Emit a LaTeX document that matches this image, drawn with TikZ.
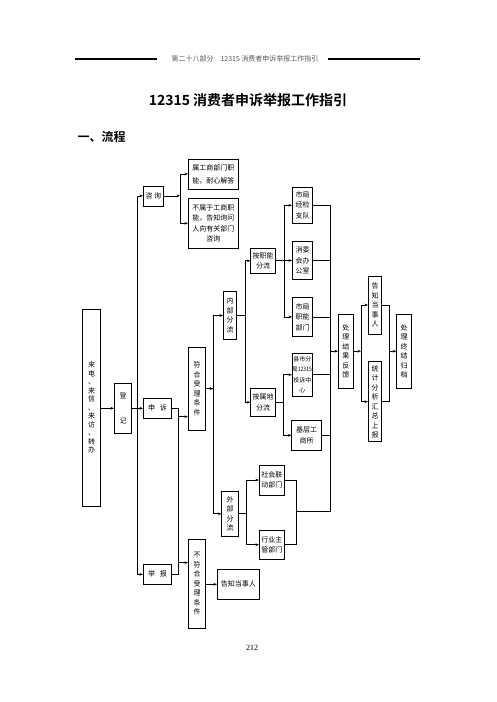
\documentclass[tikz,border=0pt]{standalone}
\usepackage{fontspec}
\newfontfamily\cjk{Noto Sans CJK SC}[BoldFont={Noto Sans CJK SC Bold}]
\newfontfamily\numfont{Liberation Serif}
\usetikzlibrary{arrows.meta}
\tikzset{gbox/.style={
    rectangle,
    draw,
    line width=0.7pt,
    inner sep=0pt,
    align=center,
    font=\cjk\fontsize{7}{10.5}\selectfont
  },
  vbox/.style={gbox,font=\cjk\fontsize{7}{9.5}\selectfont},
  wbox/.style={gbox,font=\cjk\fontsize{7}{13}\selectfont},
  sbox/.style={gbox,font=\cjk\fontsize{6}{10.5}\selectfont},
  link/.style={line width=0.7pt},
  arr/.style={link,->},
}

\begin{document}
\begin{tikzpicture}[x=1pt,y=-1pt,>={Stealth[length=3.5pt,width=2.8pt]}]
  \useasboundingbox (0,0) rectangle (496,702);
  \node[font=\cjk\fontsize{7}{7}\selectfont,text=black!65] (header) at (245,59) {第二十八部分\quad 12315 消费者申诉举报工作指引};
  \draw[line width=2pt] (75,59) -- (157,59);
  \draw[line width=2pt] (328,59) -- (420,59);
  \node[font=\cjk\bfseries\fontsize{14}{14}\selectfont] (title) at (248,100) {12315 消费者申诉举报工作指引};
  \node[font=\cjk\bfseries\fontsize{12}{12}\selectfont,anchor=west] (section) at (74,137) {一、流程};
  \node[font=\numfont\fontsize{8}{8}\selectfont] (page) at (252,648) {212};

  \node[vbox,font=\cjk\fontsize{7}{8.5}\selectfont,minimum width=18pt,minimum height=197pt] (caller) at (91.7,407.5) {来\\电\\、\\来\\信\\、\\来\\访\\、\\转\\办};
  \node[vbox,minimum width=17.4pt,minimum height=50pt] (register) at (123,408.3) {登\\[16pt]记};
  \node[gbox,minimum width=20pt,minimum height=20pt] (consult) at (153.3,195.85) {咨\hspace{1.5pt}询};
  \node[gbox,minimum width=28.4pt,minimum height=20pt] (complain) at (157.5,408.3) {申\hspace{5pt}诉};
  \node[gbox,minimum width=28.4pt,minimum height=20pt] (report) at (157.5,574.3) {举\hspace{5pt}报};
  \node[wbox,minimum width=50pt,minimum height=30pt] (inscope) at (213.3,174) {属工商部门职\\能，耐心解答};
  \node[gbox,minimum width=50pt,minimum height=50pt] (outscope) at (213.3,223.3) {不属于工商职\\能，告知询问\\人向有关部门\\咨询};
  \node[vbox,minimum width=17.4pt,minimum height=82.7pt] (accept) at (197,388.7) {符\\合\\受\\理\\条\\件};
  \node[vbox,minimum width=17.4pt,minimum height=89.3pt] (reject) at (197,583.7) {不\\符\\合\\受\\理\\条\\件};
  \node[gbox,minimum width=42pt,minimum height=30pt] (notify) at (238.3,584.3) {告知当事人};
  \node[vbox,minimum width=13.4pt,minimum height=47.6pt] (internal) at (230,315.5) {内\\部\\分\\流};
  \node[vbox,minimum width=16.6pt,minimum height=44.3pt] (external) at (230,513.8) {外\\部\\分\\流};
  \node[gbox,minimum width=25pt,minimum height=25pt] (byfunc) at (263.2,260.8) {按职能\\分流};
  \node[gbox,minimum width=25pt,minimum height=27.7pt] (byarea) at (263.2,402.2) {按属地\\分流};
  \node[gbox,minimum width=20.4pt,minimum height=36pt] (inspect) at (302.5,205.3) {市局\\经检\\支队};
  \node[gbox,minimum width=20.4pt,minimum height=37.6pt] (consumer) at (302.5,260.5) {消委\\会办\\公室};
  \node[gbox,minimum width=20.4pt,minimum height=39.4pt] (citydept) at (302.5,317) {市局\\职能\\部门};
  \node[sbox,minimum width=20pt,minimum height=42.7pt] (county) at (302.3,374.7) {县市分\\\scalebox{0.85}[1]{局12315}\\投诉中\\心};
  \node[gbox,minimum width=30pt,minimum height=29.3pt] (grassroots) at (306.7,435.3) {基层工\\商所};
  \node[gbox,minimum width=25pt,minimum height=30pt] (social) at (271.8,480) {社会联\\动部门};
  \node[gbox,minimum width=25pt,minimum height=29.3pt] (industry) at (271.8,544.7) {行业主\\管部门};
  \node[vbox,minimum width=15pt,minimum height=74.3pt] (feedback) at (345.8,351.2) {处\\理\\结\\果\\反\\馈};
  \node[vbox,minimum width=13.4pt,minimum height=58pt] (inform) at (375,305) {告\\知\\当\\事\\人};
  \node[vbox,minimum width=13.4pt,minimum height=80pt] (stats) at (375,401.7) {统\\计\\分\\析\\汇\\总\\上\\报};
  \node[vbox,minimum width=15pt,minimum height=74.3pt] (archive) at (404.2,351.2) {处\\理\\终\\结\\归\\档};

  \coordinate (spine) at (137.7,408.3);
  \coordinate (cbranch) at (180,195.85);
  \coordinate (cfork) at (178.3,416.7);
  \coordinate (rfork) at (178.3,562.7);
  \coordinate (split) at (213.3,388.7);
  \coordinate (ibranch) at (245,315.5);
  \coordinate (fbranch) at (284.3,260.8);
  \coordinate (abranch) at (283.3,402.2);
  \coordinate (ebranch) at (246.7,513.8);
  \coordinate (emerge) at (296.7,511);
  \coordinate (merge) at (330,351.2);
  \coordinate (obranch) at (361,351.2);
  \coordinate (amerge) at (389.3,351.2);

  \draw[arr] (caller.east |- register.west) -- (register.west);
  \draw[arr] (register) -- (complain);
  \draw[arr] (spine) |- (consult);
  \draw[arr] (spine) |- (report);
  \draw[arr] (consult) -- (cbranch);
  \draw[arr] (cbranch) |- (inscope);
  \draw[arr] (cbranch) |- (outscope);
  \draw[link] (complain.east) -| (rfork) |- (report.east);
  \draw[arr] (cfork) -- (cfork -| accept.west);
  \draw[arr] (rfork) -- (rfork -| reject.west);
  \draw[arr] (reject.east |- notify.west) -- (notify.west);
  \draw[arr] (accept) -- (split);
  \draw[arr] (split) |- (internal);
  \draw[arr] (split) |- (external);
  \draw[link] (internal) -- (ibranch);
  \draw[arr] (ibranch) |- (byfunc);
  \draw[arr] (ibranch) |- (byarea);
  \draw[link] (byfunc) -- (fbranch);
  \draw[arr] (fbranch) |- (inspect);
  \draw[arr] (fbranch) |- (consumer);
  \draw[arr] (fbranch) |- (citydept);
  \draw[link] (byarea) -- (abranch);
  \draw[arr] (abranch) |- (county);
  \draw[arr] (abranch) |- (grassroots);
  \draw[link] (external) -- (ebranch);
  \draw[arr] (ebranch) |- (social);
  \draw[arr] (ebranch) |- (industry);
  \draw[link] (inspect) -| (merge);
  \draw[link] (consumer) -| (merge);
  \draw[link] (citydept) -| (merge);
  \draw[link] (county) -| (merge);
  \draw[link] (grassroots) -| (merge);
  \draw[link] (social) -| (emerge);
  \draw[link] (industry) -| (emerge);
  \draw[link] (emerge) -| (merge);
  \draw[arr] (merge) -- (feedback);
  \draw[arr] (feedback) -- (obranch);
  \draw[arr] (obranch) |- (inform);
  \draw[arr] (obranch) |- (stats);
  \draw[link] (inform) -| (amerge);
  \draw[link] (stats) -| (amerge);
  \draw[arr] (amerge) -- (archive);
\end{tikzpicture}
\end{document}
